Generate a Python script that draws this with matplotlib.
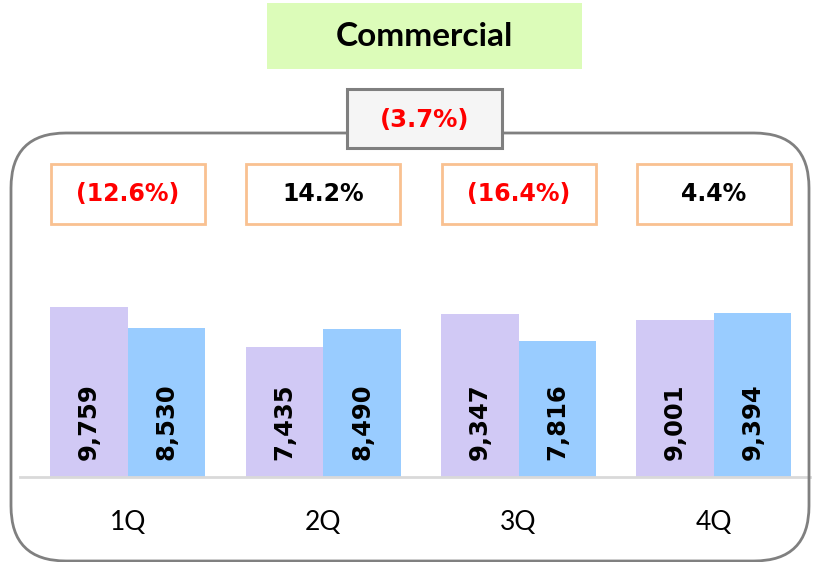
import numpy as np
import matplotlib
matplotlib.use("Agg")
import matplotlib.pyplot as plt
import matplotlib.transforms as mtrans
from matplotlib.patches import FancyBboxPatch

# data
quarters = ['1Q', '2Q', '3Q', '4Q']
prev_year = [9759, 7435, 9347, 9001]
this_year = [8530, 8490, 7816, 9394]
growth = ['(12.6%)', '14.2%', '(16.4%)', '4.4%']
total_growth = '(3.7%)'
title = 'Commercial'

W, H = 820, 562
fig = plt.figure(figsize=(W / 100, H / 100), dpi=100)
ax = fig.add_axes([0, 0, 1, 1])
ax.set_axis_off()

px_per_unit = 0.01742
s = 1 / px_per_unit
ax.set_xlim(-0.655, 3.543)
ax.set_ylim(-85 * s, 477 * s)

pix = mtrans.IdentityTransform()


def box(x0, y0, x1, y1, fc, ec, lw, rounding=0, z=1):
    # pixel coords measured from the top of the image
    style = "round,pad=0,rounding_size=%d" % rounding if rounding else "square,pad=0"
    p = FancyBboxPatch((x0, H - y1), x1 - x0, y1 - y0, boxstyle=style,
                       mutation_scale=1, facecolor=fc, edgecolor=ec,
                       linewidth=lw, transform=pix, zorder=z)
    fig.add_artist(p)


# outer rounded frame and header boxes
box(11, 133, 809, 561, 'none', '#808080', 2.0, rounding=55)
box(267, 3, 582, 69, '#dcfcb9', 'none', 0)
fig.text(424.5 / W, 1 - 37 / H, title, ha='center', va='center',
         fontsize=24, fontweight='bold', family='Lato')
box(347, 89, 502, 148, '#f5f5f5', '#7f7f7f', 2.2, z=3)
fig.text(424.5 / W, 1 - 120 / H, total_growth, ha='center', va='center',
         fontsize=17.5, fontweight='bold', color='#ff0000', zorder=4)

x = np.arange(len(quarters))
w = 0.397
ax.bar(x - w / 2, prev_year, w, color='#d1c9f5', zorder=2)
ax.bar(x + w / 2, this_year, w, color='#99ccff', zorder=2)
ax.axhline(0, xmin=20 / W, xmax=810 / W, color='#d9d9d9', lw=2, zorder=3)

for i in range(len(quarters)):
    for dx, v in ((-w / 2, prev_year[i]), (w / 2, this_year[i])):
        ax.annotate(f'{v:,}', (x[i] + dx, 0), xytext=(0, 12), textcoords='offset points',
                    rotation=90, ha='center', va='bottom', fontsize=17.5,
                    fontweight='bold', zorder=4)

bt = mtrans.blended_transform_factory(ax.transData, pix)
for i, g in enumerate(growth):
    cx = ax.transData.transform((x[i], 0))[0]
    box(cx - 77, 164, cx + 77, 224, 'white', '#f9c191', 2.0, z=3)
    col = '#ff0000' if g.startswith('(') else 'black'
    fig.text(cx / W, 1 - 194 / H, g, ha='center', va='center',
             fontsize=17, fontweight='bold', color=col, zorder=4)
    ax.text(x[i], H - 523, quarters[i], transform=bt, ha='center', va='center',
            fontsize=19, family='Lato')

fig.savefig('out.png', dpi=100)
